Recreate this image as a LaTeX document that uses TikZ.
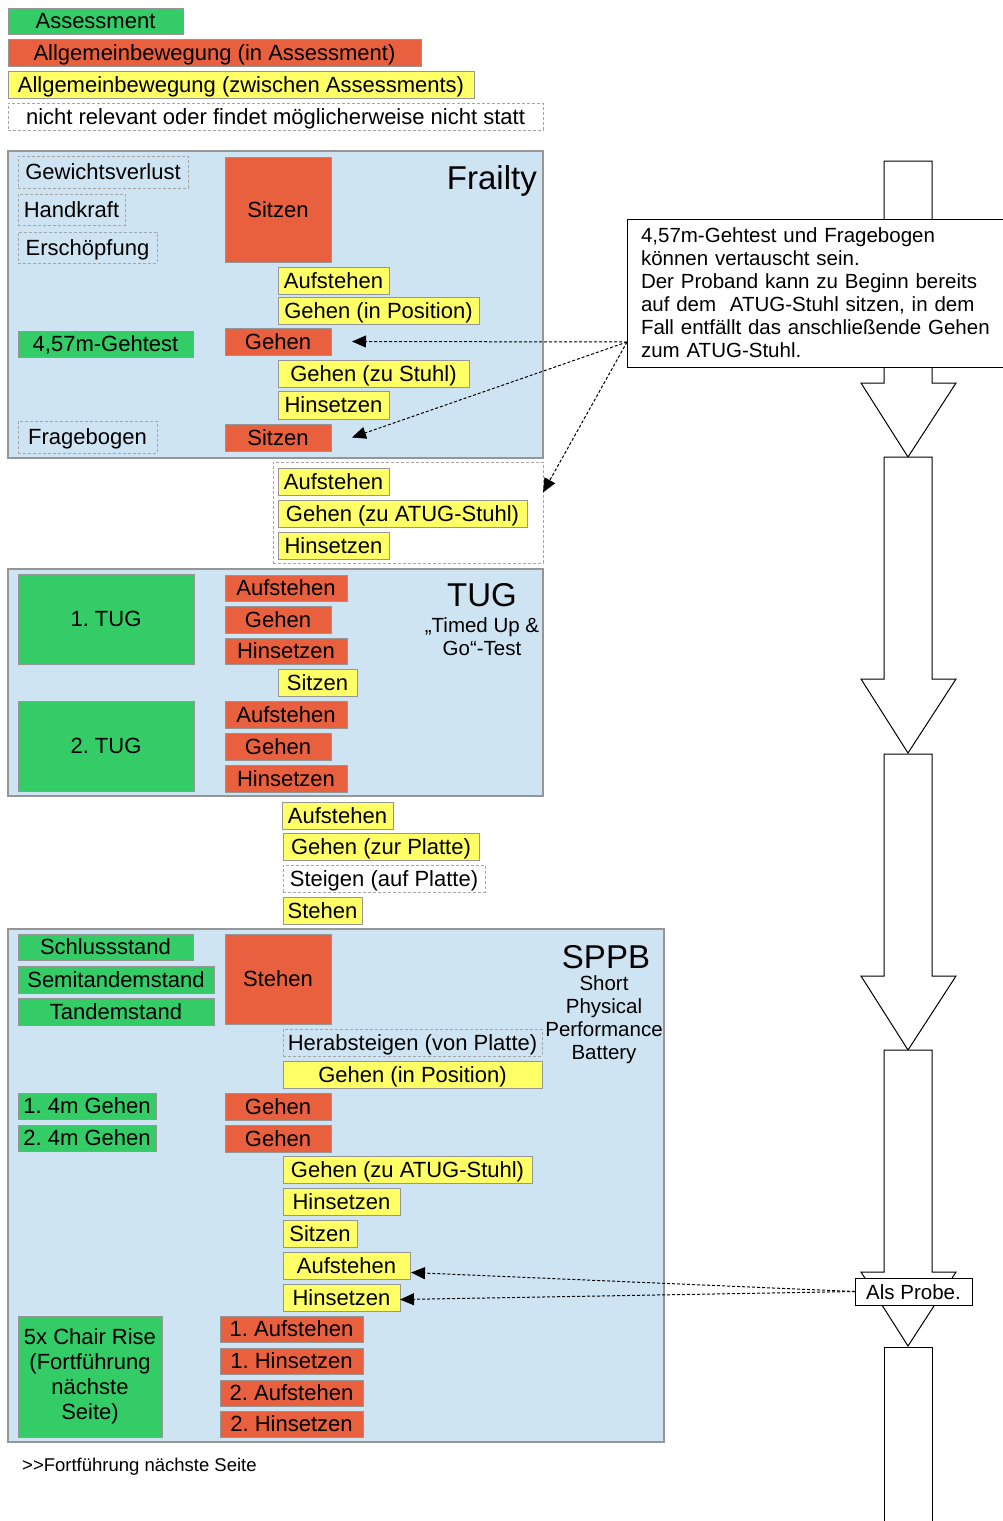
\documentclass[tikz,border=0pt]{standalone}
\usepackage{fontspec}
\setmainfont{Liberation Sans}
\usetikzlibrary{arrows.meta,calc}
\frenchspacing

\definecolor{assessgreen}{RGB}{51,204,102}
\definecolor{moveorange}{RGB}{233,96,62}
\definecolor{transyellow}{RGB}{255,255,102}
\definecolor{panelblue}{RGB}{207,228,242}
\definecolor{edgegray}{RGB}{150,150,150}
\definecolor{dashgray}{RGB}{165,165,165}

\tikzset{
  cell/.style={anchor=north west, inner sep=0pt, outer sep=0pt, line width=1pt,
    draw=edgegray, font=\fontsize{22}{25}\selectfont},
  tag/.style={cell, minimum height=27pt, text height=15.5pt, text depth=0pt},
  assess/.style={tag, fill=assessgreen},
  move/.style={tag, fill=moveorange},
  trans/.style={tag, fill=transyellow},
  maybe/.style={tag, draw=dashgray, dash pattern=on 3pt off 2pt},
  panel/.style={cell, fill=panelblue, draw=edgegray, line width=1.5pt},
  wd/.style={minimum width=#1pt},
  ht/.style={minimum height=#1pt},
  heading/.style={inner sep=0pt, font=\fontsize{33}{38}\selectfont},
  subhead/.style={inner sep=0pt, align=center, font=\fontsize{20.5}{23}\selectfont},
  blockarrow/.style={draw=black, fill=white, line width=1pt},
  hint/.style={->, dash pattern=on 3pt off 2pt, line width=1pt}
}

\begin{document}
\begin{tikzpicture}[x=1pt, y=-1pt, >={Triangle[length=14pt,width=12pt]}]
  \path[use as bounding box, fill=white] (0,0) rectangle (1003,1521);

  \node[assess, wd=175, ht=26] (leg-assess) at (8,8) {Assessment};
  \node[move, wd=413] (leg-move) at (8,39) {Allgemeinbewegung (in Assessment)};
  \node[trans, wd=466] (leg-trans) at (8,71) {Allgemeinbewegung (zwischen Assessments)};
  \node[maybe, wd=535] (leg-maybe) at (8,103) {nicht relevant oder findet möglicherweise nicht statt};

  \node[panel, wd=535, ht=307] (frailty) at (8,151) {};
  \node[heading, anchor=base east] (frl-title) at (537,189) {Frailty};
  \node[maybe, wd=170, ht=32] (frl-weight) at (18,156) {Gewichtsverlust};
  \node[maybe, wd=107, ht=31] (frl-grip) at (18,194) {Handkraft};
  \node[maybe, wd=139, ht=31] (frl-exh) at (18,232) {Erschöpfung};
  \node[move, wd=106, ht=105] (frl-sit1) at (225,157) {Sitzen};
  \node[trans, wd=111] (frl-up) at (278,267) {Aufstehen};
  \node[trans, wd=201] (frl-pos) at (278,297) {Gehen (in Position)};
  \node[assess, wd=175, ht=26] (frl-gait) at (18,331) {4,57m-Gehtest};
  \node[move, wd=106] (frl-walk) at (225,328) {Gehen};
  \node[trans, wd=191] (frl-chair) at (278,360) {Gehen (zu Stuhl)};
  \node[trans, wd=111, ht=28] (frl-down) at (278,391) {Hinsetzen};
  \node[maybe, wd=139, ht=32] (frl-quest) at (18,421) {Fragebogen};
  \node[move, wd=106] (frl-sit2) at (225,424) {Sitzen};

  \node[maybe, wd=270, ht=101] (grp) at (273,462) {};
  \node[trans, wd=111] (grp-up) at (278,468) {Aufstehen};
  \node[trans, wd=249] (grp-walk) at (278,500) {Gehen (zu ATUG-Stuhl)};
  \node[trans, wd=111] (grp-down) at (278,532) {Hinsetzen};

  \node[panel, wd=535, ht=227] (tug) at (8,569) {};
  \node[heading, anchor=base] (tug-title) at (482,606) {TUG};
  \node[subhead, anchor=north] (tug-sub) at (482,617) {„Timed Up \&\\Go“-Test};
  \node[assess, wd=176, ht=90] (tug-one) at (18,574) {1. TUG};
  \node[assess, wd=176, ht=90] (tug-two) at (18,701) {2. TUG};
  \node[move, wd=122, ht=26] (tug1-up) at (225,575) {Aufstehen};
  \node[move, wd=106] (tug1-walk) at (225,606) {Gehen};
  \node[move, wd=122, ht=26] (tug1-down) at (225,638) {Hinsetzen};
  \node[trans, wd=79] (tug-sit) at (278,669) {Sitzen};
  \node[move, wd=122] (tug2-up) at (225,701) {Aufstehen};
  \node[move, wd=106] (tug2-walk) at (225,733) {Gehen};
  \node[move, wd=122] (tug2-down) at (225,765) {Hinsetzen};

  \node[trans, wd=111] (mid-up) at (282,802) {Aufstehen};
  \node[trans, wd=196] (mid-walk) at (283,833) {Gehen (zur Platte)};
  \node[maybe, wd=202] (mid-step) at (283,865) {Steigen (auf Platte)};
  \node[trans, wd=79] (mid-stand) at (283,897) {Stehen};

  \node[panel, wd=656, ht=513] (sppb) at (8,929) {};
  \node[heading, anchor=base] (sp-title) at (606,968) {SPPB};
  \node[subhead, anchor=north] (sp-sub) at (604,975) {Short\\Physical\\Performance\\Battery};
  \node[assess, wd=175, ht=26] (sp-feet) at (18,934) {Schlussstand};
  \node[assess, wd=196] (sp-semi) at (18,966) {Semitandemstand};
  \node[assess, wd=196] (sp-tandem) at (18,998) {Tandemstand};
  \node[move, wd=106, ht=90] (sp-stand) at (225,934) {Stehen};
  \node[maybe, wd=259] (sp-off) at (283,1029) {Herabsteigen (von Platte)};
  \node[trans, wd=259] (sp-pos) at (283,1061) {Gehen (in Position)};
  \node[assess, wd=138, ht=26] (sp-g1) at (18,1093) {1. 4m Gehen};
  \node[assess, wd=138, ht=26] (sp-g2) at (18,1125) {2. 4m Gehen};
  \node[move, wd=106] (sp-w1) at (225,1093) {Gehen};
  \node[move, wd=106] (sp-w2) at (225,1125) {Gehen};
  \node[trans, wd=249] (sp-chair) at (283,1156) {Gehen (zu ATUG-Stuhl)};
  \node[trans, wd=117] (sp-down1) at (283,1188) {Hinsetzen};
  \node[trans, wd=74] (sp-sit) at (283,1220) {Sitzen};
  \node[trans, wd=127] (sp-up) at (283,1252) {Aufstehen};
  \node[trans, wd=117] (sp-down2) at (283,1284) {Hinsetzen};
  \node[cell, fill=assessgreen, align=center, wd=144, ht=121] (sp-rise) at (18,1316)
    {5x Chair Rise\\(Fortführung\\nächste\\Seite)};
  \node[move, wd=143, ht=26] (sp-r1) at (220,1316) {1. Aufstehen};
  \node[move, wd=143, ht=26] (sp-r2) at (220,1348) {1. Hinsetzen};
  \node[move, wd=143, ht=26] (sp-r3) at (220,1380) {2. Aufstehen};
  \node[move, wd=143, ht=26] (sp-r4) at (220,1411) {2. Hinsetzen};

  \node[anchor=base west, inner sep=0pt, font=\fontsize{18.5}{22}\selectfont] (footer)
    at (22,1471) {>\kern0pt>Fortführung nächste Seite};

  \foreach \y in {161,457,754,1050}
    \draw[blockarrow] (884,\y) -- (884,\y+222) -- (861,\y+222) -- (908,\y+296)
      -- (956,\y+222) -- (932,\y+222) -- (932,\y) -- cycle;
  \draw[blockarrow] (884,1530) -- (884,1347) -- (932,1347) -- (932,1530);

  \node[cell, draw=black, fill=white, wd=385, ht=148, text width=357pt, align=left,
    font=\fontsize{20.5}{23}\selectfont] (note) at (627,219)
    {4,57m-Gehtest und Fragebogen\\können vertauscht sein.\\Der Proband kann zu Beginn bereits\\auf dem~ ATUG-Stuhl sitzen, in dem\\Fall entfällt das anschließende Gehen\\zum ATUG-Stuhl.};
  \node[cell, draw=black, fill=white, wd=117, ht=27, text height=15pt, text depth=0pt,
    font=\fontsize{20.5}{23}\selectfont] (probe) at (855,1278) {Als Probe.};

  \coordinate (note-pin) at ($(note.south west)+(0,-25)$);
  \draw[hint] (note-pin) -- ($(frl-walk.east)+(21,0)$);
  \draw[hint] (note-pin) -- ($(frl-sit2.east)+(21,0)$);
  \draw[hint] (note-pin) -- ($(grp.east)+(0,-20)$);
  \draw[hint] (probe.west) -- ($(sp-up.east)+(1,7)$);
  \draw[hint] (probe.west) -- ($(sp-down2.east)+(0,2)$);
\end{tikzpicture}
\end{document}
